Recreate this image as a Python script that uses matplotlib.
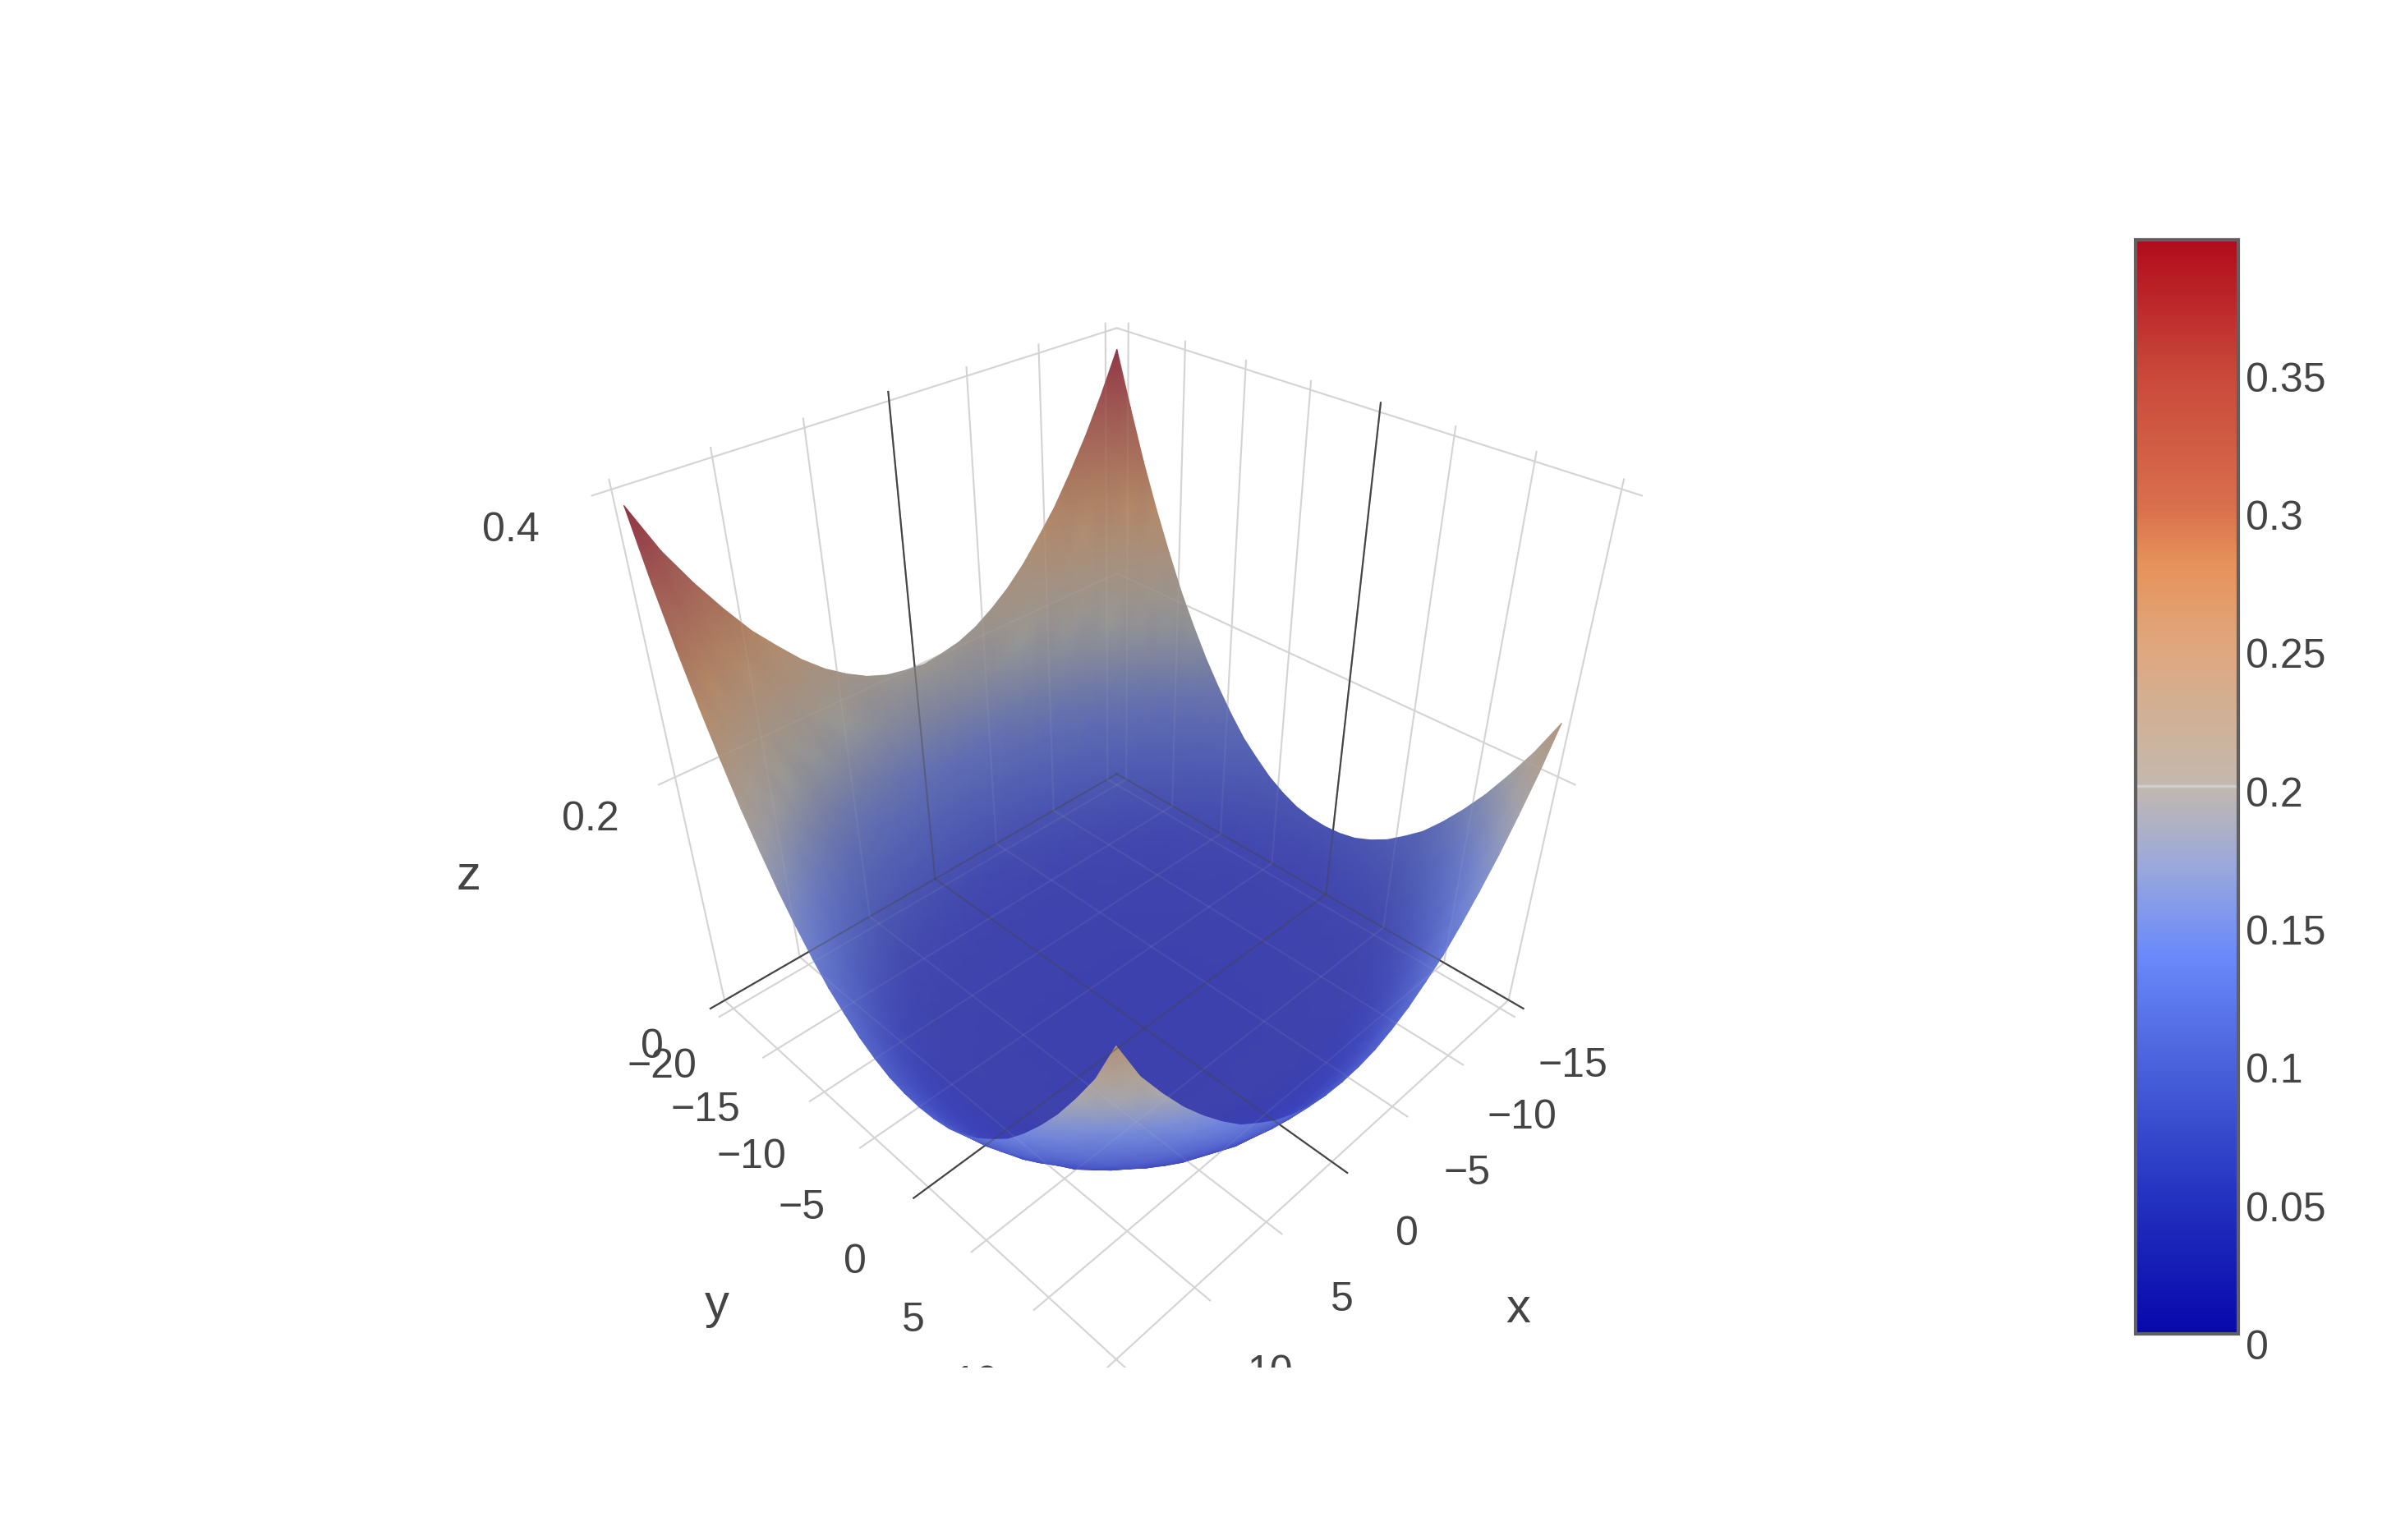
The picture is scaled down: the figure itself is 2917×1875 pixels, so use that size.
import numpy as np
import matplotlib
matplotlib.use("Agg")
import matplotlib.pyplot as plt
from matplotlib.colors import LinearSegmentedColormap, Normalize
from matplotlib.cm import ScalarMappable
from mpl_toolkits.mplot3d import proj3d

plt.rcParams['font.family'] = ['Liberation Sans', 'DejaVu Sans']

# surface heights, the bowl is mirrored in x and nearly in y
abs_x_vals = [15, 13.75, 12.5, 11.25, 10, 8.75, 7.5, 6.25, 5, 3.75, 2.5, 1.25, 0]
abs_y_vals = [20, 18.75, 17.5, 16.25, 15, 13.75, 12.5, 11.25, 10, 8.75, 7.5, 6.25, 5, 3.75, 2.5, 1.25, 0]
z_half = [
    [.390, .360, .333, .309, .287, .269, .252, .238, .227, .218, .212, .209, .207],
    [.350, .321, .294, .270, .249, .230, .213, .200, .190, .181, .175, .172, .170],
    [.312, .283, .257, .233, .212, .194, .178, .165, .154, .146, .140, .137, .135],
    [.278, .249, .223, .200, .180, .162, .146, .133, .122, .114, .108, .105, .104],
    [.247, .218, .193, .170, .150, .132, .116, .104, .093, .085, .079, .076, .075],
    [.218, .190, .165, .143, .122, .105, .089, .077, .068, .061, .056, .053, .052],
    [.193, .165, .140, .118, .097, .081, .067, .056, .047, .041, .036, .034, .033],
    [.170, .143, .118, .096, .076, .061, .048, .039, .031, .027, .023, .022, .021],
    [.150, .122, .097, .076, .059, .045, .033, .026, .020, .017, .014, .013, .012],
    [.132, .105, .081, .061, .045, .032, .023, .017, .013, .011, .009, .009, .008],
    [.116, .089, .067, .048, .033, .023, .016, .011, .009, .007, .006, .005, .005],
    [.104, .077, .056, .039, .026, .017, .011, .009, .006, .005, .004, .004, .003],
    [.093, .068, .047, .031, .020, .013, .009, .006, .004, .003, .003, .002, .002],
    [.085, .061, .041, .027, .017, .011, .007, .005, .003, .002, .002, .001, .001],
    [.079, .056, .036, .023, .014, .009, .006, .004, .003, .002, .001, .001, .000],
    [.076, .053, .034, .022, .013, .009, .005, .004, .002, .001, .001, .000, .000],
    [.075, .052, .033, .021, .012, .008, .005, .003, .002, .001, .000, .000, .000],
]
y_vals = [-20, -18.75, -17.5, -16.25, -15, -13.75, -12.5, -11.25, -10, -8.75, -7.5, -6.25, -5,
          -3.75, -2.5, -1.25, 0, 1.25, 2.5, 3.75, 5, 6.25, 7.5, 8.75, 10, 11.25, 12.5, 13.75, 15]
# the two corners on the +x side sit a little higher than their mirror images
z_corner_left = 0.394
z_corner_near = 0.251

x_ticks = [-15, -10, -5, 0, 5, 10, 15]
y_ticks = [-20, -15, -10, -5, 0, 5, 10, 15]
z_ticks = [0, 0.2, 0.4]
bar_ticks = [0, 0.05, 0.1, 0.15, 0.2, 0.25, 0.3, 0.35]
bar_labels = ['0', '0.05', '0.1', '0.15', '0.2', '0.25', '0.3', '0.35']

z_stops = [0, .05, .1, .138, .17, .2, .25, .28, .3, .35, .3978]
bar_colors = ['#0808ab', '#2433c0', '#4c64dd', '#6b8afb', '#9aa8dc', '#c3b9ae',
              '#dfa77e', '#e69259', '#d9704d', '#c9473a', '#b10b1c']
surf_colors = ['#3d41ad', '#4248ae', '#515fb2', '#626fb2', '#7c829f', '#979795',
               '#a98f7a', '#b58a68', '#ab7a5e', '#a05a55', '#8f3042']

W, H = 2917, 1875
fig = plt.figure(figsize=(W / 100, H / 100), dpi=100)

ax_size = 1407.5
ax_rect = [637 / W, (H - 1665) / H, ax_size / W, ax_size / H]
x_lo, x_hi = -15.9, 15.9
y_lo, y_hi = -21.05, 16.1
z_lo, z_hi = 0, 0.417
z_line_top = 0.406


def make_scene():
    a = fig.add_axes(ax_rect, projection='3d', computed_zorder=False)
    a.patch.set_visible(False)
    a.set_axis_off()
    a.set_proj_type('persp', focal_length=0.2257)
    a.set_box_aspect((1, 1, 1), zoom=0.9474)
    a.view_init(elev=35.26, azim=45)
    return a


def draw_lines(a, light_alpha, dark_alpha):
    # grid of the two back walls and the floor
    def line(xs, ys, zs, dark):
        a.plot(xs, ys, zs, color='#444444' if dark else '#d4d4d4', lw=1.5,
               alpha=dark_alpha if dark else light_alpha, zorder=2 if dark else 1)
    for t in x_ticks:
        line([t, t], [y_lo, y_lo], [z_lo, z_line_top], t == 0)
        line([t, t], [y_lo, y_hi], [z_lo, z_lo], t == 0)
    for t in y_ticks:
        line([x_lo, x_lo], [t, t], [z_lo, z_line_top], t == 0)
        line([x_lo, x_hi], [t, t], [z_lo, z_lo], t == 0)
    for t in z_ticks:
        line([x_lo, x_hi], [y_lo, y_lo], [t, t], t == 0)
        line([x_lo, x_lo], [y_lo, y_hi], [t, t], t == 0)
    a.set_xlim(x_lo, x_hi)
    a.set_ylim(y_lo, y_hi)
    a.set_zlim(z_lo, z_hi)


back = make_scene()
draw_lines(back, 1, 1)

half = np.array(z_half)
rows = [half[abs_y_vals.index(abs(v))] for v in y_vals]
Z = np.array([np.concatenate([r, r[-2::-1]]) for r in rows])
Z[0, -1] = z_corner_left
Z[-1, -1] = z_corner_near
x_vals = [-v for v in abs_x_vals] + abs_x_vals[-2::-1]
X, Y = np.meshgrid(x_vals, y_vals)

pos = [v / z_stops[-1] for v in z_stops]
surf_cmap = LinearSegmentedColormap.from_list('surf', list(zip(pos, surf_colors)), N=512)
bar_cmap = LinearSegmentedColormap.from_list('bar', list(zip(pos, bar_colors)), N=512)
bar_norm = Normalize(0.002, z_stops[-1])
norm = Normalize(0, z_stops[-1])

# rough version of the scene lighting: surfaces seen at a grazing angle get the plain colour scale
xn = X / x_hi
yn = (Y - (y_lo + y_hi) / 2) / ((y_hi - y_lo) / 2)
zn = Z / (z_hi / 2) - 1
pts = np.stack([xn, yn, zn], axis=-1)
nrm = np.cross(np.gradient(pts, axis=0), np.gradient(pts, axis=1))
nrm /= np.linalg.norm(nrm, axis=-1, keepdims=True)
view = np.array([2.5, 2.5, 2.5]) - pts
view /= np.linalg.norm(view, axis=-1, keepdims=True)
ndv = np.abs((nrm * view).sum(axis=-1))

face = np.ones(Z.shape + (4,))
surf_rgb = surf_cmap(norm(Z))[..., :3]
bar_rgb = bar_cmap(norm(Z))[..., :3] * 0.86 + 0.14
rim = np.clip((0.62 - ndv) / 0.45, 0, 1) * np.clip((0.27 - Z) / 0.06, 0, 1) * 0.75
face[..., :3] = surf_rgb * (1 - rim[..., None]) + bar_rgb * rim[..., None]

# smooth colours need a gouraud mesh, so the surface goes through the 3d projection onto a 2d axes.
# rows run from the far side to the near side, that keeps the painting order right.
xp, yp, _ = proj3d.proj_transform(X.ravel(), Y.ravel(), Z.ravel(), back.get_proj())
mesh_ax = fig.add_axes(ax_rect, frameon=False)
mesh_ax.pcolormesh(np.reshape(xp, X.shape), np.reshape(yp, X.shape), face, shading='gouraud')
mesh_ax.set_xlim(back.viewLim.intervalx)
mesh_ax.set_ylim(back.viewLim.intervaly)
mesh_ax.set_xticks([])
mesh_ax.set_yticks([])

# the surface is see-through in the reference, faint copies of the lines show that
front = make_scene()
draw_lines(front, 0.08, 0.4)

txt_col = '#444444'
tick_size = 36
for t in x_ticks[:-1]:
    front.text(t + 0.6, 20.8, -0.005, str(t).replace('-', '\u2212'), color=txt_col, fontsize=tick_size,
               ha='center', va='center', zorder=10, clip_on=True)
for t in y_ticks[:-1]:
    front.text(19.9, t + 0.8, -0.005, str(t).replace('-', '\u2212'), color=txt_col, fontsize=tick_size,
               ha='center', va='center', zorder=10, clip_on=True)
front.text(18.6, -24.2, -0.040, '0', color=txt_col, fontsize=tick_size, ha='center', va='center', zorder=11)
front.text(18.6, -24.2, 0.172, '0.2', color=txt_col, fontsize=tick_size, ha='center', va='center', zorder=11)
front.text(18.6, -24.4, 0.378, '0.4', color=txt_col, fontsize=tick_size, ha='center', va='center', zorder=11)
front.text(0.5, 27.7, -0.003, 'x', color=txt_col, fontsize=43, ha='center', va='center', zorder=10)
front.text(25.7, -2, -0.002, 'y', color=txt_col, fontsize=43, ha='center', va='center', zorder=10)
front.text(23.6, -30, 0.124, 'z', color=txt_col, fontsize=43, ha='center', va='center', zorder=10)

# colorbar
cax = fig.add_axes([2599.5 / W, (H - 1624) / H, 125.5 / W, (1624 - 291.5) / H])
cb = fig.colorbar(ScalarMappable(norm=bar_norm, cmap=bar_cmap), cax=cax)
cb.outline.set_edgecolor('#606060')
cb.outline.set_linewidth(3)
cb.set_ticks([])
cax.axhline(0.2, color='#cfcfcf', lw=2.5)
for v, lab in zip(bar_ticks, bar_labels):
    cax.annotate(lab, xy=(1, v), xycoords=cax.get_yaxis_transform(), xytext=(6.5, -8),
                 textcoords='offset points', va='center', ha='left', color=txt_col,
                 fontsize=tick_size, annotation_clip=False)

fig.savefig('out.png', dpi=100, facecolor='white')
